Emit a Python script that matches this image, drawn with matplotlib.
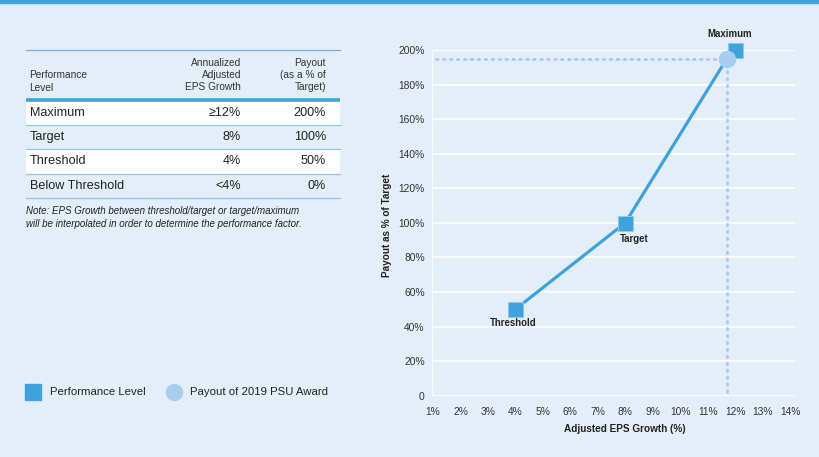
import matplotlib
matplotlib.use("Agg")
import matplotlib.pyplot as plt
from matplotlib.patches import Rectangle

plt.rcParams['font.family'] = ['Liberation Sans', 'DejaVu Sans']

# dados da tabela
levels = ["Maximum", "Target", "Threshold", "Below Threshold"]
eps_growth = ["\u226512%", "8%", "4%", "<4%"]
payout_txt = ["200%", "100%", "50%", "0%"]

# pontos do grafico
perf_x = [4, 8, 12]
perf_y = [50, 100, 200]
perf_names = ["Threshold", "Target", "Maximum"]
award_x = 11.7
award_y = 195
xticks = list(range(1, 15))
yticks = list(range(0, 201, 20))

bg = "#e4eef9"
blue = "#3fa2dc"
light = "#a8cdee"
txt = "#222222"

W, H = 820, 457
fig = plt.figure(figsize=(W / 100, H / 100), dpi=100, facecolor=bg)

# eixo "canvas" em pixels para tabela e legenda
cv = fig.add_axes([0, 0, 1, 1])
cv.set_xlim(0, W)
cv.set_ylim(H, 0)
cv.axis('off')
cv.set_facecolor(bg)

# barra azul no topo
cv.add_patch(Rectangle((0, 0), W, 3.6, color=blue, lw=0))
cv.plot([0, W], [4.3, 4.3], color="#b9dbf3", lw=0.8)

# tabela
tx0, tx1 = 26, 340
cv.plot([tx0, tx1], [50, 50], color="#6ab6e4", lw=0.9)
hdr = dict(fontsize=7.3, color="#333333", va='center', linespacing=1.3)
cv.text(29, 81.5, "Performance\nLevel", ha='left', **hdr)
cv.text(241, 75, "Annualized\nAdjusted\nEPS Growth", ha='right', **hdr)
cv.text(326, 75, "Payout\n(as a % of\nTarget)", ha='right', **hdr)
cv.plot([tx0, tx1], [99.5, 99.5], color=blue, lw=2.6, solid_capstyle='butt')

row_top = 101
row_h = 24.2
for i, (lv, eg, po) in enumerate(zip(levels, eps_growth, payout_txt)):
    y0 = row_top + i * row_h
    if i % 2 == 0:
        cv.add_patch(Rectangle((tx0, y0), tx1 - tx0, row_h, color="white", lw=0))
    cv.plot([tx0, tx1], [y0 + row_h, y0 + row_h], color="#8cc6ea", lw=0.9)
    yc = y0 + row_h / 2
    cv.text(30, yc, lv, ha='left', va='center', fontsize=9.1, color=txt)
    cv.text(241, yc, eg, ha='right', va='center', fontsize=9.1, color=txt)
    cv.text(326, yc, po, ha='right', va='center', fontsize=9.1, color=txt)

cv.text(26, 210.5, "Note: EPS Growth between threshold/target or target/maximum",
        fontsize=7.0, style='italic', color=txt, va='center')
cv.text(26, 224, "will be interpolated in order to determine the performance factor.",
        fontsize=7.0, style='italic', color=txt, va='center')

# legenda
cv.plot([33.5], [391.5], marker='s', ms=11, color=blue, mec=blue, ls='none')
cv.text(50, 392, "Performance Level", fontsize=8.2, color=txt, va='center')
cv.plot([174], [391.5], marker='o', ms=11.5, color=light, mec=light, ls='none')
cv.text(190, 392, "Payout of 2019 PSU Award", fontsize=8.2, color=txt, va='center')

# grafico
ax = fig.add_axes([431.7 / W, 1 - 395.7 / H, (795 - 431.7) / W, (395.7 - 50) / H])
ax.set_facecolor(bg)
ax.set_xlim(0.953, 14.18)
ax.set_ylim(0, 200)
for y in yticks:
    ax.axhline(y, color="white", lw=1.1, zorder=1)
for s in ax.spines.values():
    s.set_visible(False)
ax.axvline(0.953, color="white", lw=1.1, zorder=1)

ax.set_xticks(xticks)
ax.set_xticklabels([f"{v}%" for v in xticks])
ax.set_yticks(yticks)
ax.set_yticklabels(["0"] + [f"{v}%" for v in yticks[1:]])
ax.tick_params(length=0, labelsize=7.4, colors="#333333")
ax.tick_params(axis='x', pad=8)
ax.tick_params(axis='y', pad=5)

ax.set_xlabel("Adjusted EPS Growth (%)", fontsize=7.2, fontweight='bold', color=txt)
ax.set_ylabel("Payout as % of Target", fontsize=7.2, fontweight='bold', color=txt)
# posicao dos titulos dos eixos (fracao do eixo)
ax.xaxis.set_label_coords((625 - 431.7) / (795 - 431.7), -(428.5 - 395.7) / (395.7 - 50))
ax.yaxis.set_label_coords(-(431.7 - 387) / (795 - 431.7), (395.7 - 225) / (395.7 - 50))
ax.xaxis.label.set_va('center')
ax.yaxis.label.set_va('center')

# linhas pontilhadas
ax.plot([award_x, award_x], [2, award_y], color=light, lw=2, ls=(0, (0.6, 1.9)),
        dash_capstyle='round', zorder=2)
ax.plot([1.1, award_x], [award_y, award_y], color=light, lw=2, ls=(0, (0.6, 1.9)),
        dash_capstyle='round', zorder=2)

ax.plot(perf_x[:2] + [award_x], perf_y[:2] + [award_y], color=blue, lw=2.3, zorder=3)
ax.plot(perf_x, perf_y, marker='s', ms=10.8, color=blue, mec="#8cc8ee", mew=0.8,
        ls='none', zorder=4, clip_on=False)
ax.plot([award_x], [award_y], marker='o', ms=11.5, color=light, mec=light,
        ls='none', zorder=5, clip_on=False)

lbl = dict(fontsize=6.9, fontweight='bold', color=txt)
ax.annotate(perf_names[0], (perf_x[0], perf_y[0]), xytext=(-1.5, -10), textcoords='offset points',
            ha='center', va='center', **lbl)
ax.annotate(perf_names[1], (perf_x[1], perf_y[1]), xytext=(6.5, -11.5), textcoords='offset points',
            ha='center', va='center', **lbl)
ax.annotate(perf_names[2], (perf_x[2], perf_y[2]), xytext=(-3.6, 11.5), textcoords='offset points',
            ha='center', va='center', **lbl)

fig.savefig("out.png", dpi=100, facecolor=bg)
